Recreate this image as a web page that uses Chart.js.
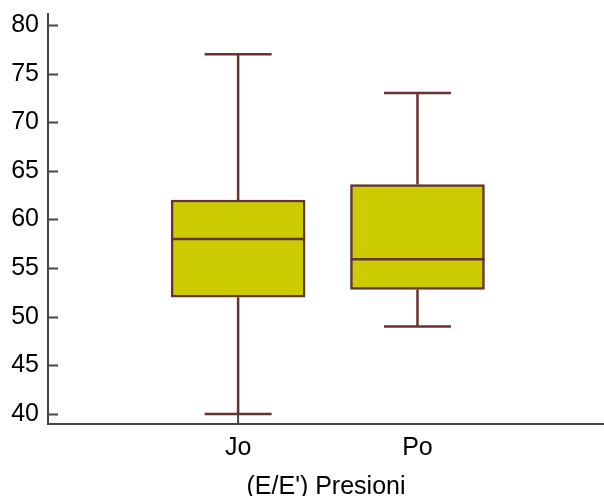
<!DOCTYPE html>
<html>
<head>
<meta charset="utf-8">
<script src="https://cdn.jsdelivr.net/npm/chart.js@4"></script>
<style>
  html, body { margin: 0; padding: 0; background: #fff; }
  #wrap { width: 604px; height: 496px; }
</style>
</head>
<body>
<div id="wrap"><canvas id="myChart" width="604" height="496"></canvas></div>
<script>
// box plot summary per group
const categories = ["Jo", "Po"];
const mins = [40, 49];
const q1s = [52, 52.8];
const medians = [58, 55.9];
const q3s = [62, 63.6];
const maxs = [77, 73];
const yTicks = [40, 45, 50, 55, 60, 65, 70, 75, 80];

const boxFill = "#cccc00";
const boxLine = "#663333";
const axisColor = "#444444";
const font = { family: "'Liberation Sans', Arial, sans-serif", size: 25, lineHeight: 1 };

// whiskers, caps and median lines drawn on top of the floating bars
const whiskers = {
    id: "whiskers",
    afterDatasetsDraw(chart) {
        const { ctx, scales: { x, y } } = chart;
        const half = 67;
        ctx.save();
        ctx.strokeStyle = boxLine;
        ctx.lineWidth = 2.5;
        categories.forEach((c, i) => {
            const cx = x.getPixelForValue(i);
            const line = (x1, y1, x2, y2) => {
                ctx.beginPath();
                ctx.moveTo(x1, y1);
                ctx.lineTo(x2, y2);
                ctx.stroke();
            };
            line(cx, y.getPixelForValue(q3s[i]), cx, y.getPixelForValue(maxs[i]));
            line(cx, y.getPixelForValue(q1s[i]), cx, y.getPixelForValue(mins[i]));
            line(cx - half / 2, y.getPixelForValue(maxs[i]), cx + half / 2, y.getPixelForValue(maxs[i]));
            line(cx - half / 2, y.getPixelForValue(mins[i]), cx + half / 2, y.getPixelForValue(mins[i]));
            line(cx - half, y.getPixelForValue(medians[i]), cx + half, y.getPixelForValue(medians[i]));
        });
        ctx.restore();
    },
};

// short tick marks pointing into the plot
const innerTicks = {
    id: "innerTicks",
    afterDraw(chart) {
        const { ctx, chartArea, scales: { x, y } } = chart;
        ctx.save();
        ctx.strokeStyle = axisColor;
        ctx.lineWidth = 2;
        yTicks.forEach((v) => {
            const py = Math.round(y.getPixelForValue(v)) + 0.5;
            ctx.beginPath();
            ctx.moveTo(chartArea.left, py);
            ctx.lineTo(chartArea.left + 10, py);
            ctx.stroke();
        });
        const px = x.getPixelForValue(0);
        ctx.beginPath();
        ctx.moveTo(px, chartArea.bottom);
        ctx.lineTo(px, chartArea.bottom - 10);
        ctx.stroke();
        ctx.restore();
    },
};

const ctx = document.getElementById("myChart").getContext("2d");
const myChart = new Chart(ctx, {
    type: "bar",
    data: {
        datasets: [
            {
                data: categories.map((c, i) => ({ x: i, y: [q1s[i], q3s[i]] })),
                backgroundColor: boxFill,
                borderColor: boxLine,
                borderWidth: 2.5,
                borderSkipped: false,
                barThickness: 134,
            },
        ],
    },
    options: {
        responsive: false,
        animation: false,
        layout: {
            padding: { top: 14, right: 0, bottom: 0, left: 0 },
        },
        plugins: {
            legend: { display: false },
            tooltip: { enabled: false },
        },
        scales: {
            x: {
                type: "linear",
                offset: false,
                min: -1.06,
                max: 2.04,
                grid: { display: false, drawTicks: false, offset: false },
                border: { display: true, color: axisColor, width: 2 },
                afterBuildTicks: (axis) => {
                    axis.ticks = categories.map((c, i) => ({ value: i }));
                },
                afterFit: (scale) => {
                    scale.height = 72;
                    scale.paddingLeft = 0;
                    scale.paddingRight = 0;
                },
                ticks: {
                    color: "#000",
                    font: font,
                    padding: 12,
                    maxRotation: 0,
                    callback: (v) => categories[v],
                },
                title: {
                    display: true,
                    text: "(E/E') Presioni",
                    color: "#000",
                    font: font,
                    padding: { top: 0, bottom: -4 },
                },
            },
            y: {
                min: 38.97,
                max: 81.13,
                grid: { display: false, drawTicks: false },
                border: { display: true, color: axisColor, width: 2 },
                afterBuildTicks: (axis) => {
                    axis.ticks = yTicks.map((v) => ({ value: v }));
                },
                afterFit: (scale) => {
                    scale.width = 48;
                    scale.paddingTop = 0;
                    scale.paddingBottom = 0;
                },
                ticks: {
                    color: "#000",
                    font: font,
                    padding: 9,
                },
            },
        },
    },
    plugins: [whiskers, innerTicks],
});
</script>
</body>
</html>
